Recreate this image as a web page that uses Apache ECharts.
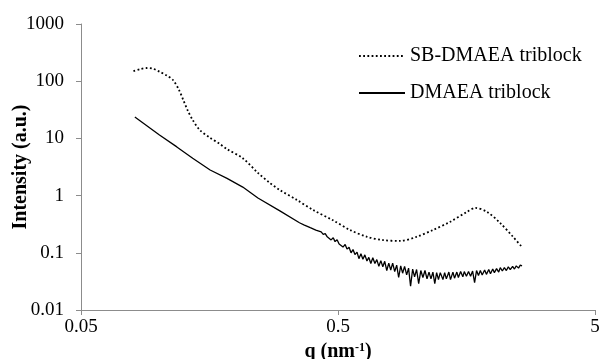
<!DOCTYPE html>
<html>
<head>
<meta charset="utf-8">
<script src="https://cdn.jsdelivr.net/npm/echarts@6/dist/echarts.min.js"></script>
<style>
  html, body { margin: 0; padding: 0; background: #fff; }
  #main { width: 601px; height: 359px; }
</style>
</head>
<body>
<div id="main"></div>
<script>
// q (nm-1) and intensity
const qSb = [0.080, 0.085, 0.090, 0.095, 0.101, 0.108, 0.114, 0.120, 0.125, 0.130, 0.136, 0.145, 0.159, 0.172, 0.185, 0.213, 0.244, 0.270, 0.297, 0.346, 0.40, 0.478, 0.557, 0.649, 0.748, 0.871, 1.01, 1.17, 1.36, 1.59, 1.71, 1.90, 2.14, 2.40, 2.60];
const iSb = [150, 163, 170, 166, 147, 125, 105, 72, 47, 31, 21, 14, 10.2, 8.2, 6.5, 4.5, 2.5, 1.7, 1.25, 0.84, 0.56, 0.37, 0.25, 0.19, 0.167, 0.161, 0.19, 0.25, 0.345, 0.52, 0.61, 0.52, 0.33, 0.19, 0.126];

// DMAEA: smooth part, then the noisy band above ~0.43
const qDm = [0.081, 0.101, 0.118, 0.136, 0.159, 0.185, 0.213, 0.244, 0.297, 0.354, 0.37, 0.39, 0.41,
  0.430, 0.438, 0.446, 0.454, 0.462, 0.470, 0.479, 0.487, 0.496, 0.505, 0.514, 0.523, 0.533, 0.542, 0.552, 0.562, 0.572, 0.582, 0.593, 0.603,
  0.614, 0.625, 0.636, 0.648, 0.659, 0.671, 0.683, 0.696, 0.708, 0.721, 0.734, 0.747, 0.760, 0.774, 0.788, 0.802, 0.816, 0.831, 0.846, 0.861,
  0.877, 0.892, 0.908, 0.925, 0.941, 0.958, 0.976, 0.993, 1.011, 1.03, 1.05, 1.07, 1.09, 1.11, 1.13, 1.15, 1.17, 1.19, 1.21, 1.23,
  1.25, 1.28, 1.30, 1.32, 1.35, 1.37, 1.40, 1.42, 1.45, 1.47, 1.50, 1.53, 1.55, 1.58, 1.61, 1.64, 1.67, 1.70, 1.73, 1.76,
  1.79, 1.82, 1.86, 1.89, 1.93, 1.96, 2.00, 2.03, 2.07, 2.11, 2.14, 2.18, 2.22, 2.26, 2.30, 2.34, 2.39, 2.43, 2.47, 2.52, 2.56, 2.60];
const iDm = [23.7, 11.5, 7.1, 4.5, 2.8, 2.0, 1.41, 0.91, 0.54, 0.335, 0.305, 0.275, 0.250,
  0.232, 0.210, 0.217, 0.190, 0.197, 0.168, 0.183, 0.157, 0.169, 0.142, 0.151, 0.126, 0.140, 0.116, 0.125, 0.100, 0.114, 0.093, 0.103, 0.079,
  0.096, 0.077, 0.092, 0.072, 0.083, 0.065, 0.082, 0.065, 0.076, 0.058, 0.073, 0.057, 0.071, 0.049, 0.066, 0.050, 0.066, 0.047, 0.061, 0.037,
  0.059, 0.044, 0.058, 0.041, 0.054, 0.026, 0.052, 0.038, 0.051, 0.029, 0.049, 0.037, 0.049, 0.035, 0.046, 0.035, 0.046, 0.029, 0.045, 0.034,
  0.045, 0.034, 0.045, 0.035, 0.046, 0.034, 0.046, 0.036, 0.046, 0.037, 0.047, 0.038, 0.047, 0.039, 0.047, 0.039, 0.048, 0.030, 0.049, 0.040,
  0.049, 0.041, 0.050, 0.042, 0.051, 0.043, 0.052, 0.045, 0.053, 0.046, 0.055, 0.048, 0.055, 0.049, 0.057, 0.051, 0.058, 0.052, 0.059, 0.054, 0.061, 0.059];

const xTicks = [0.05, 0.5, 5];

const pair = (xs, ys) => xs.map((x, i) => [x, ys[i]]);

const font = 'Liberation Serif';
const chart = echarts.init(document.getElementById('main'));
chart.setOption({
  animation: false,
  textStyle: { fontFamily: font, color: '#000' },
  grid: { left: 81, right: 6, top: 24, bottom: 49, outerBoundsMode: 'none', containLabel: false },
  legend: {
    orient: 'vertical',
    left: 353,
    top: 41,
    itemWidth: 46,
    itemHeight: 14,
    itemGap: 17,
    itemTextGap: 4,
    itemStyle: { color: 'rgba(0,0,0,0)', borderWidth: 0 },
    textStyle: { fontFamily: font, fontSize: 20, color: '#000' },
    data: ['SB-DMAEA triblock', 'DMAEA triblock']
  },
  xAxis: {
    type: 'log',
    logBase: 10,
    min: 0.05,
    max: 5,
    name: 'q (nm{sup|-1})',
    nameLocation: 'middle',
    nameGap: 26,
    nameTextStyle: {
      fontFamily: font, fontSize: 20, fontWeight: 'bold', color: '#000',
      rich: { sup: { fontFamily: font, fontSize: 12, fontWeight: 'bold', verticalAlign: 'top', padding: [0, 0, 8, 0] } }
    },
    axisLine: { lineStyle: { color: '#8c8c8c', width: 1 } },
    axisTick: { show: true, length: 5, customValues: xTicks, lineStyle: { color: '#8c8c8c' } },
    axisLabel: { customValues: xTicks, margin: 8, fontSize: 19, color: '#000', fontFamily: font },
    splitLine: { show: false },
    minorTick: { show: false }
  },
  yAxis: {
    type: 'log',
    logBase: 10,
    min: 0.01,
    max: 1000,
    name: 'Intensity (a.u.)',
    nameLocation: 'middle',
    nameGap: 50,
    nameMoveOverlap: false,
    nameTextStyle: { fontFamily: font, fontSize: 20, fontWeight: 'bold', color: '#000' },
    axisLine: { show: true, lineStyle: { color: '#8c8c8c', width: 1 } },
    axisTick: { show: true, length: 5, lineStyle: { color: '#8c8c8c' } },
    axisLabel: {
      margin: 17, fontSize: 19, color: '#000', fontFamily: font,
      formatter: (v) => String(+v.toPrecision(3))
    },
    splitLine: { show: false },
    minorTick: { show: false }
  },
  series: [
    {
      name: 'SB-DMAEA triblock',
      type: 'line',
      data: pair(qSb, iSb),
      symbol: 'none',
      smooth: 0.3,
      lineStyle: { color: '#000', width: 1.8, type: [1.8, 2.4] },
      itemStyle: { color: '#000' }
    },
    {
      name: 'DMAEA triblock',
      type: 'line',
      data: pair(qDm, iDm),
      symbol: 'none',
      lineStyle: { color: '#000', width: 1.3 },
      itemStyle: { color: '#000' }
    }
  ]
});
</script>
</body>
</html>
